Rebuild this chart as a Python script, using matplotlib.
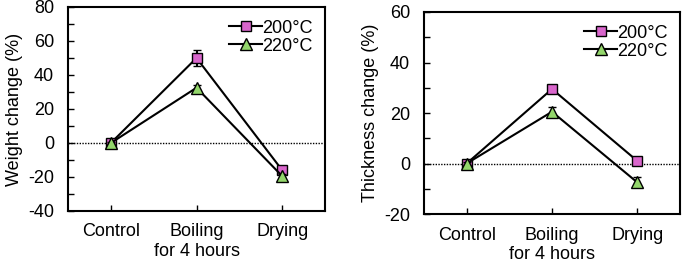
import numpy as np
import matplotlib.pyplot as plt
from matplotlib.ticker import MultipleLocator
from matplotlib.lines import Line2D

plt.rcParams['font.family'] = ['Liberation Sans', 'DejaVu Sans']
plt.rcParams['font.size'] = 13
plt.rcParams['axes.unicode_minus'] = False

categories = ['Control', 'Boiling\nfor 4 hours', 'Drying']
labels = ['200°C', '220°C']

weight_200 = [0, 50, -16]
weight_200_err = [0.5, 4.5, 1]
weight_220 = [0, 32.5, -19.5]
weight_220_err = [0.5, 1.5, 1]

thick_200 = [0, 29.5, 1]
thick_200_err = [0.5, 1, 1.2]
thick_220 = [0, 20.5, -7.5]
thick_220_err = [0.5, 2, 2]

pink = '#D966CC'
green = '#93D66B'

fig = plt.figure(figsize=(6.85, 2.62), dpi=100)
ax1 = fig.add_axes([0.0993, 0.1947, 0.3752, 0.7786])
ax2 = fig.add_axes([0.619, 0.1832, 0.3737, 0.771])


def draw(ax, s200, e200, s220, e220, ylim, ylabel):
    x = np.arange(len(categories))
    ax.axhline(0, color='black', linestyle=(0, (1, 1)), linewidth=1, zorder=1)
    ax.errorbar(x, s200, yerr=e200, color='black', lw=1.5, capsize=3,
                marker='s', ms=7.5, mfc=pink, mec='black', mew=1, zorder=3)
    ax.errorbar(x, s220, yerr=e220, color='black', lw=1.5, capsize=3,
                marker='^', ms=8, mfc=green, mec='black', mew=1, zorder=4)
    ax.set_xlim(-0.5, 2.5)
    ax.set_ylim(*ylim)
    ax.set_xticks(x)
    ax.set_xticklabels(categories)
    ax.yaxis.set_major_locator(MultipleLocator(20))
    ax.yaxis.set_minor_locator(MultipleLocator(10))
    ax.tick_params(direction='in', length=4, width=1)
    ax.tick_params(which='minor', direction='in', length=4, width=1)
    ax.tick_params(axis='x', pad=9)
    ax.tick_params(axis='y', pad=10)
    ax.set_ylabel(ylabel, labelpad=4)
    for sp in ax.spines.values():
        sp.set_linewidth(1.5)
    handles = [
        Line2D([], [], color='black', lw=1.5, marker='s', ms=7.5,
               mfc=pink, mec='black', mew=1),
        Line2D([], [], color='black', lw=1.5, marker='^', ms=8,
               mfc=green, mec='black', mew=1),
    ]
    ax.legend(handles, labels, loc='upper right', frameon=False,
              handlelength=1.8, handletextpad=0, borderaxespad=0.3,
              labelspacing=0.05, fontsize=13)


draw(ax1, weight_200, weight_200_err, weight_220, weight_220_err,
     (-40, 80), 'Weight change (%)')
draw(ax2, thick_200, thick_200_err, thick_220, thick_220_err,
     (-20, 60), 'Thickness change (%)')

fig.savefig('out.png', dpi=100)
